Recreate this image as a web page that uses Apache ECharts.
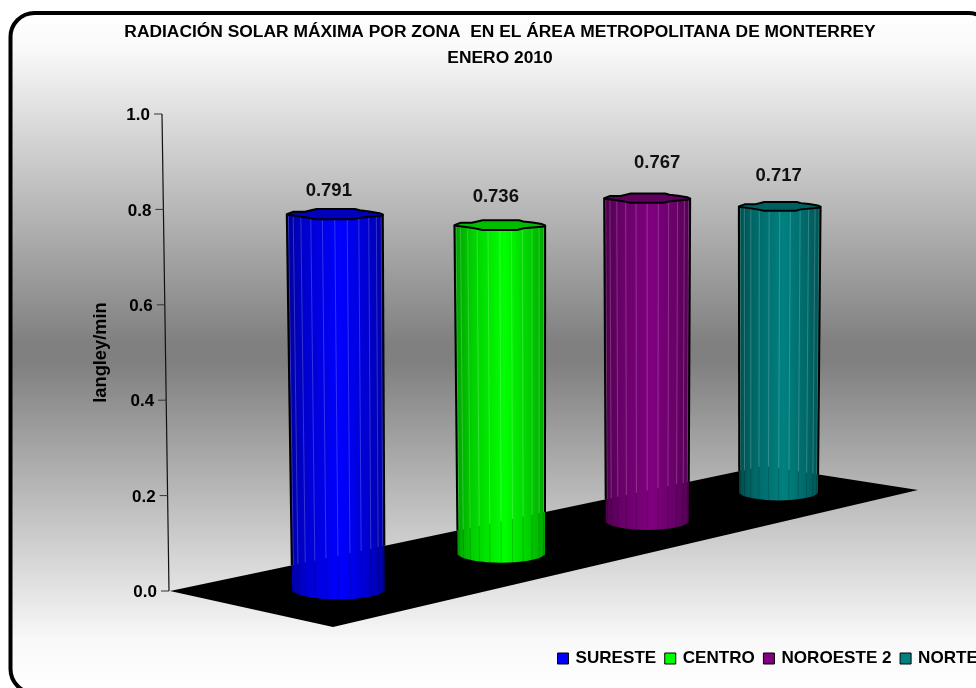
<!DOCTYPE html>
<html><head><meta charset="utf-8">
<style>html,body{margin:0;padding:0;background:#fff;overflow:hidden}#c{width:976px;height:688px}</style>
<script src="https://cdn.jsdelivr.net/npm/echarts@6/dist/echarts.min.js"></script>
</head><body><div id="c"></div>
<script>
const titleLines = ['RADIACIÓN SOLAR MÁXIMA POR ZONA  EN EL ÁREA METROPOLITANA DE MONTERREY', 'ENERO 2010'];
const yAxisName = 'langley/min';
const categories = ['SURESTE', 'CENTRO', 'NOROESTE 2', 'NORTE'];
const values = [0.791, 0.736, 0.767, 0.717];
const valueLabels = ['0.791', '0.736', '0.767', '0.717'];
const yTicks = [0, 0.2, 0.4, 0.6, 0.8, 1.0];

const colors = [[0,0,255],[0,255,0],[128,0,128],[0,128,128]];
const labelNudge = [[-6,-23],[-4,-28],[10,-35],[-1,-31]];
const capShape = [[-1,0],[-.86,-.47],[-.62,-.47],[-.47,-.8],[-.38,-1],[.42,-1],[.52,-.75],[.72,-.53],[.93,-.2],[1,.05],
  [.97,.3],[.72,.5],[.52,.67],[.38,1],[-.38,1],[-.55,.67],[-.79,.33],[-.97,.13]];
const baseShape = [[1,0],[.88,.42],[.62,.74],[.32,.95],[0,1],[-.32,.95],[-.62,.74],[-.88,.42],[-1,0]];
const FONT = '"Liberation Sans", Arial, sans-serif';
const LEAN = 7, FACETS = 12;

function shade(c, f){ return 'rgb(' + c.map(v => Math.round(v*f)).join(',') + ')'; }

// floor quad in pixels relative to the origin of the value axis
function floorQuad(cs, y0){
  const x0 = cs.x;
  return [[x0+1,y0],[x0+595,y0-125],[x0+749,y0-101],[x0+164,y0+36]];
}
// perspective map from the unit square onto the floor quad
function projector(q){
  const [p0,p1,p2,p3] = q;
  const dx1=p1[0]-p2[0], dy1=p1[1]-p2[1], dx2=p3[0]-p2[0], dy2=p3[1]-p2[1];
  const sx=p0[0]-p1[0]+p2[0]-p3[0], sy=p0[1]-p1[1]+p2[1]-p3[1];
  const den=dx1*dy2-dx2*dy1;
  const g=(sx*dy2-dx2*sy)/den, h=(dx1*sy-sx*dy1)/den;
  const a=p1[0]-p0[0]+g*p1[0], b=p3[0]-p0[0]+h*p3[0];
  const d=p1[1]-p0[1]+g*p1[1], e=p3[1]-p0[1]+h*p3[1];
  return (u,v)=>{ const w=1+g*u+h*v; return {x:(a*u+b*v+p0[0])/w, y:(d*u+e*v+p0[1])/w, w}; };
}

function renderFloor(params, api){
  const y0 = api.coord([0,0])[1];
  return {type:'polygon', silent:true, shape:{points:floorQuad(params.coordSys,y0)}, style:{fill:'#000'}};
}

function renderAxis(params, api){
  const cs = params.coordSys, v = api.value(1);
  const y = api.coord([0,v])[1], x = cs.x - v*LEAN;
  const kids = [{type:'line', shape:{x1:x-8,y1:y,x2:x,y2:y}, style:{stroke:'#333',lineWidth:1}}];
  if (v < 0.95) {
    const yn = api.coord([0,v+0.2])[1];
    kids.push({type:'line', shape:{x1:x,y1:y,x2:x-0.2*LEAN,y2:yn}, style:{stroke:'#111',lineWidth:1.2}});
  }
  return {type:'group', silent:true, children:kids};
}

function makeRender(ci){
  return function(params, api){
    const cs = params.coordSys;
    const idx = api.value(0), val = api.value(1);
    const pt = api.coord([idx,val]), zero = api.coord([idx,0]);
    const q = floorQuad(cs, zero[1]);
    const P = projector(q);
    const u = (pt[0]-cs.x)/cs.width;
    const c = P(u,0.5);
    const xb = c.x, yb = c.y+2;
    const h = (zero[1]-pt[1])*1.005/Math.pow(c.w,1.08);
    const xt = xb + (xb-650)*3.06e-5*h, yt = yb-h;
    const rt = 48.3/c.w, rb = 46.5/c.w, bt = 5.2/c.w, bb = 8.5/c.w;
    const col = colors[ci];
    // back edge of the floor, both sides of its far corner
    const backY = x => x <= q[1][0]
      ? q[0][1] + (x-q[0][0])*(q[1][1]-q[0][1])/(q[1][0]-q[0][0])
      : q[1][1] + (x-q[1][0])*(q[2][1]-q[1][1])/(q[2][0]-q[1][0]);

    const bodyPts = [[xt-rt,yt],[xt+rt,yt]];
    baseShape.forEach(s => bodyPts.push([xb+rb*s[0], yb+bb*s[1]]));
    const grad = new echarts.graphic.LinearGradient(0,0,1,0,[
      {offset:0,color:shade(col,.62)},{offset:.2,color:shade(col,.82)},{offset:.55,color:shade(col,1)},
      {offset:.82,color:shade(col,.82)},{offset:1,color:shade(col,.66)}]);
    const kids = [{type:'polygon', shape:{points:bodyPts}, style:{fill:grad}}];

    for (let k=1; k<FACETS; k++){
      const th = -Math.PI/2 + k*Math.PI/FACETS, s = Math.sin(th), co = Math.cos(th);
      const x1 = xt+rt*s, y1 = yt+bt*co, x2 = xb+rb*s, y2 = yb+bb*co;
      const ym = backY(x1+(x2-x1)*0.8);
      const t = (ym-y1)/(y2-y1), xm = x1+(x2-x1)*t;
      kids.push({type:'line', shape:{x1:x1,y1:y1,x2:xm,y2:ym}, style:{stroke:'rgba(255,255,255,0.2)',lineWidth:1}});
      kids.push({type:'line', shape:{x1:xm,y1:ym,x2:x2,y2:y2}, style:{stroke:'rgba(0,0,0,0.17)',lineWidth:1}});
    }
    [-1,1].forEach(side => {
      const x1 = xt+side*rt, x2 = xb+side*rb, ym = backY(x2);
      const t = (ym-yt)/(yb-yt);
      kids.push({type:'line', shape:{x1:x1,y1:yt,x2:x1+(x2-x1)*t,y2:ym}, style:{stroke:'#000',lineWidth:2}});
    });
    kids.push({type:'polygon', shape:{points:capShape.map(s=>[xt+rt*s[0], yt+bt*s[1]])},
      style:{fill:shade(col,.74), stroke:'#000', lineWidth:2, lineJoin:'round'}});
    kids.push({type:'text', style:{text:valueLabels[ci], x:xt+labelNudge[ci][0], y:yt+labelNudge[ci][1],
      fill:'#111', font:'bold 18.5px '+FONT, align:'center', verticalAlign:'middle'}});
    return {type:'group', children:kids};
  };
}

const richTicks = {};
yTicks.forEach((v,i)=>{ richTicks['t'+i] = {fontSize:17, fontWeight:'bold', fontFamily:FONT, color:'#000', padding:[3,v*LEAN,0,0]}; });

const chart = echarts.init(document.getElementById('c'), null, {renderer:'canvas'});
chart.setOption({
  animation:false,
  backgroundColor:'#fff',
  graphic:[{type:'rect', z:-10, silent:true,
    shape:{x:10.5,y:13,width:982,height:680,r:24},
    style:{fill:new echarts.graphic.LinearGradient(0,0,0,1,[
      {offset:0,color:'#ffffff'},{offset:.055,color:'#f9f9f9'},{offset:.485,color:'#808080'},{offset:.515,color:'#808080'},
      {offset:.92,color:'#f9f9f9'},{offset:1,color:'#ffffff'}]),
      stroke:'#000',lineWidth:4}}],
  title:{text:titleLines.join('\n'), left:495, top:14, textAlign:'center',
    textStyle:{fontFamily:FONT,fontWeight:'bold',fontSize:17.4,lineHeight:26,color:'#000'}},
  legend:{data:categories, left:552, top:645, width:700, orient:'horizontal', icon:'rect',
    itemWidth:11, itemHeight:11, itemGap:8, selectedMode:false,
    itemStyle:{borderColor:'#000',borderWidth:1},
    textStyle:{fontFamily:FONT,fontWeight:'bold',fontSize:17.1,color:'#000',padding:[0,0,0,2]}},
  grid:{left:169,right:58,top:114,bottom:97,containLabel:false},
  xAxis:{type:'category',data:categories,show:false},
  yAxis:{type:'value',min:0,max:1,interval:0.2,name:yAxisName,nameLocation:'middle',nameGap:59,nameRotate:90,
    nameTextStyle:{fontFamily:FONT,fontWeight:'bold',fontSize:18.3,color:'#000'},
    axisLine:{show:false},axisTick:{show:false},splitLine:{show:false},
    axisLabel:{margin:12,formatter:v=>'{t'+Math.round(v*5)+'|'+v.toFixed(1)+'}',rich:richTicks}},
  series:[
    {type:'custom',name:'floor',silent:true,clip:false,z:1,renderItem:renderFloor,data:[[0,0]]},
    {type:'custom',name:'axis',silent:true,clip:false,z:1,renderItem:renderAxis,data:yTicks.map(v=>[0,v])},
    ...categories.map((name,i)=>({type:'custom',name,clip:false,z:2,silent:true,
      itemStyle:{color:shade(colors[i],1)},renderItem:makeRender(i),data:[[i,values[i]]]}))
  ]
});
</script></body></html>
